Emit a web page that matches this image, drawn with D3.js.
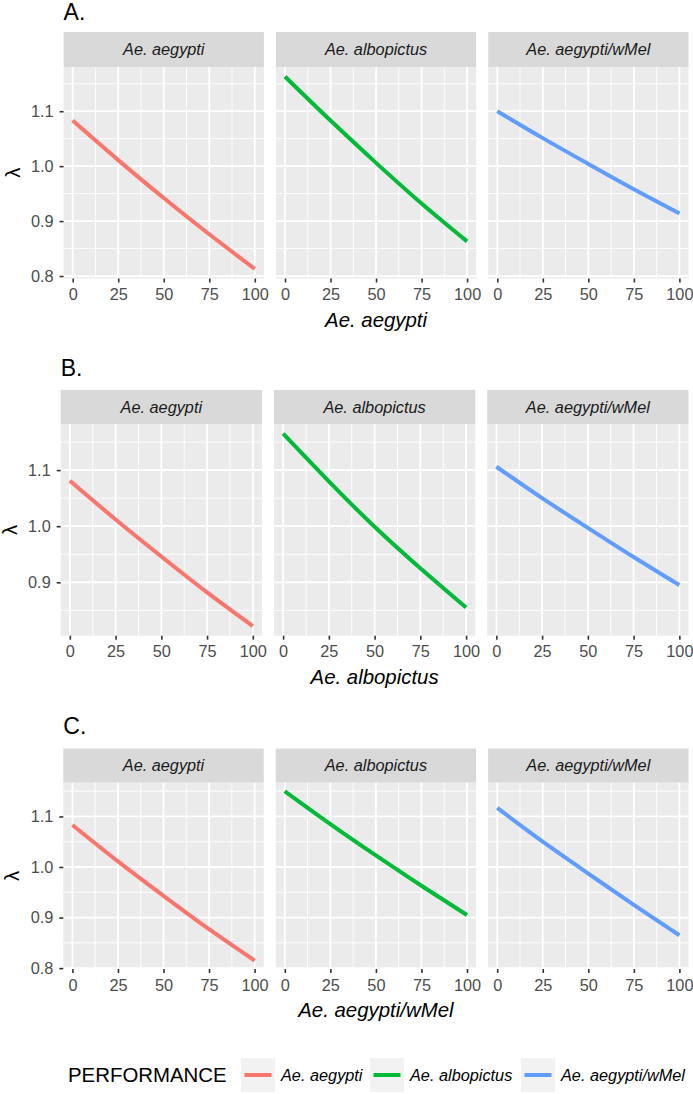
<!DOCTYPE html>
<html><head><meta charset="utf-8">
<script src="https://cdn.jsdelivr.net/npm/d3@7"></script>
<style>
html,body{margin:0;padding:0;background:#fff;}
svg{display:block;font-family:"Liberation Sans",Arial,Helvetica,sans-serif;}
</style></head>
<body>
<script>
// ---- data ----
const species = ["Ae. aegypti", "Ae. albopictus", "Ae. aegypti/wMel"];
const colors = ["#F8766D", "#00BA38", "#619CFF"];
const rowLabels = ["A.", "B.", "C."];
const rowXTitles = ["Ae. aegypti", "Ae. albopictus", "Ae. aegypti/wMel"];
const xValues = [0, 25, 50, 75, 100];
const xTicks = [0, 25, 50, 75, 100];
const xMinor = [12.5, 37.5, 62.5, 87.5];
const yTicks = [0.8, 0.9, 1.0, 1.1];
const yMinor = [0.75, 0.85, 0.95, 1.05, 1.15];
// lambda values per row (x-axis species), per facet species
const rowA = [
  [1.083, 1.011, 0.942, 0.876, 0.813],
  [1.163, 1.083, 1.006, 0.932, 0.863],
  [1.100, 1.051, 1.004, 0.958, 0.914]
];
const rowB = [
  [1.081, 1.012, 0.946, 0.882, 0.822],
  [1.165, 1.080, 0.999, 0.925, 0.855],
  [1.106, 1.050, 0.997, 0.945, 0.895]
];
const rowC = [
  [1.083, 1.011, 0.943, 0.877, 0.815],
  [1.150, 1.085, 1.023, 0.963, 0.905],
  [1.117, 1.050, 0.987, 0.925, 0.865]
];
const rowsData = [rowA, rowB, rowC];

// ---- layout ----
const W = 693, H = 1094;
const rowsLayout = [
  {left: 63.6, right: 688.5, titleY: 20, stripTop: 32, panelTop: 67, panelBottom: 278.5},
  {left: 60.7, right: 688.5, titleY: 376, stripTop: 390, panelTop: 424, panelBottom: 635.7},
  {left: 63.3, right: 688.5, titleY: 734, stripTop: 748.5, panelTop: 782.7, panelBottom: 969}
];
const gap = 12;
const FONT_TICK = 16.3, FONT_TITLE = 20.4;

const svg = d3.select("body").append("svg").attr("width", W).attr("height", H);

rowsLayout.forEach((L, r) => {
  const data = rowsData[r];
  const all = data.flat();
  const mn = d3.min(all), mx = d3.max(all), pad = (mx - mn) * 0.05;
  const y = d3.scaleLinear().domain([mn - pad, mx + pad]).range([L.panelBottom, L.panelTop]);
  const pw = (L.right - L.left - 2 * gap) / 3;
  const g = svg.append("g");

  // row tag
  g.append("text").attr("x", L.left).attr("y", L.titleY)
    .attr("font-size", 23).attr("fill", "#000").text(rowLabels[r]);

  species.forEach((sp, i) => {
    const x0 = L.left + i * (pw + gap);
    const x = d3.scaleLinear().domain([-5, 105]).range([x0, x0 + pw]);
    const p = g.append("g");
    // strip
    p.append("rect").attr("x", x0).attr("y", L.stripTop).attr("width", pw)
      .attr("height", L.panelTop - L.stripTop).attr("fill", "#D9D9D9");
    p.append("text").attr("x", x0 + pw / 2).attr("y", (L.stripTop + L.panelTop) / 2)
      .attr("dy", "0.36em").attr("text-anchor", "middle").attr("font-size", FONT_TICK)
      .attr("font-style", "italic").attr("fill", "#1A1A1A").text(sp);
    // panel background
    p.append("rect").attr("x", x0).attr("y", L.panelTop).attr("width", pw)
      .attr("height", L.panelBottom - L.panelTop).attr("fill", "#EBEBEB");
    const yd = y.domain();
    const ymin = yMinor.filter(v => v > yd[0] && v < yd[1]);
    const ymaj = yTicks.filter(v => v >= yd[0] && v <= yd[1]);
    // minor grid
    p.selectAll(".ymn").data(ymin).enter().append("line")
      .attr("x1", x0).attr("x2", x0 + pw).attr("y1", d => y(d)).attr("y2", d => y(d))
      .attr("stroke", "#fff").attr("stroke-width", 0.9);
    p.selectAll(".xmn").data(xMinor).enter().append("line")
      .attr("y1", L.panelTop).attr("y2", L.panelBottom).attr("x1", d => x(d)).attr("x2", d => x(d))
      .attr("stroke", "#fff").attr("stroke-width", 0.9);
    // major grid
    p.selectAll(".ymj").data(ymaj).enter().append("line")
      .attr("x1", x0).attr("x2", x0 + pw).attr("y1", d => y(d)).attr("y2", d => y(d))
      .attr("stroke", "#fff").attr("stroke-width", 1.8);
    p.selectAll(".xmj").data(xTicks).enter().append("line")
      .attr("y1", L.panelTop).attr("y2", L.panelBottom).attr("x1", d => x(d)).attr("x2", d => x(d))
      .attr("stroke", "#fff").attr("stroke-width", 1.8);
    // curve
    const pts = xValues.map((xv, k) => [xv, data[i][k]]);
    p.append("path").datum(pts)
      .attr("d", d3.line().x(d => x(d[0])).y(d => y(d[1])).curve(d3.curveNatural))
      .attr("fill", "none").attr("stroke", colors[i]).attr("stroke-width", 4);
    // x axis
    const xa = p.append("g").attr("transform", `translate(0,${L.panelBottom})`)
      .call(d3.axisBottom(x).tickValues(xTicks).tickSize(4).tickPadding(6).tickFormat(d3.format("d")));
    xa.select(".domain").remove();
    xa.selectAll(".tick line").attr("stroke", "#333").attr("stroke-width", 1.6);
    xa.selectAll(".tick text").attr("fill", "#4D4D4D").attr("font-size", FONT_TICK)
      .attr("font-family", "Liberation Sans, Arial, sans-serif");
    if (i === 0) {
      const ya = p.append("g").attr("transform", `translate(${x0},0)`)
        .call(d3.axisLeft(y).tickValues(ymaj).tickSize(4).tickPadding(6).tickFormat(d3.format(".1f")));
      ya.select(".domain").remove();
      ya.selectAll(".tick line").attr("stroke", "#333").attr("stroke-width", 1.6);
      ya.selectAll(".tick text").attr("fill", "#4D4D4D").attr("font-size", FONT_TICK)
        .attr("font-family", "Liberation Sans, Arial, sans-serif");
    }
  });

  // y title
  const yc = (L.panelTop + L.panelBottom) / 2;
  g.append("text").attr("transform", `translate(${L.left - 44},${yc}) rotate(-90)`)
    .attr("text-anchor", "middle").attr("font-size", FONT_TITLE).attr("fill", "#000").text("λ");
  // x title
  g.append("text").attr("x", (L.left + L.right) / 2).attr("y", L.panelBottom + 48)
    .attr("text-anchor", "middle").attr("font-size", FONT_TITLE).attr("font-style", "italic")
    .attr("fill", "#000").text(rowXTitles[r]);
});

// ---- legend ----
const legY = 1075;
const leg = svg.append("g");
leg.append("text").attr("x", 68).attr("y", legY).attr("dy", "0.36em")
  .attr("font-size", FONT_TITLE).attr("fill", "#000").text("PERFORMANCE");
const keyX = [241, 370, 521];
species.forEach((sp, i) => {
  leg.append("rect").attr("x", keyX[i]).attr("y", legY - 17).attr("width", 34).attr("height", 34)
    .attr("fill", "#F2F2F2");
  leg.append("line").attr("x1", keyX[i] + 3.5).attr("x2", keyX[i] + 30.5)
    .attr("y1", legY).attr("y2", legY).attr("stroke", colors[i]).attr("stroke-width", 4);
  leg.append("text").attr("x", keyX[i] + 40).attr("y", legY).attr("dy", "0.36em")
    .attr("font-size", FONT_TICK).attr("font-style", "italic").attr("fill", "#000").text(sp);
});
</script>
</body></html>
